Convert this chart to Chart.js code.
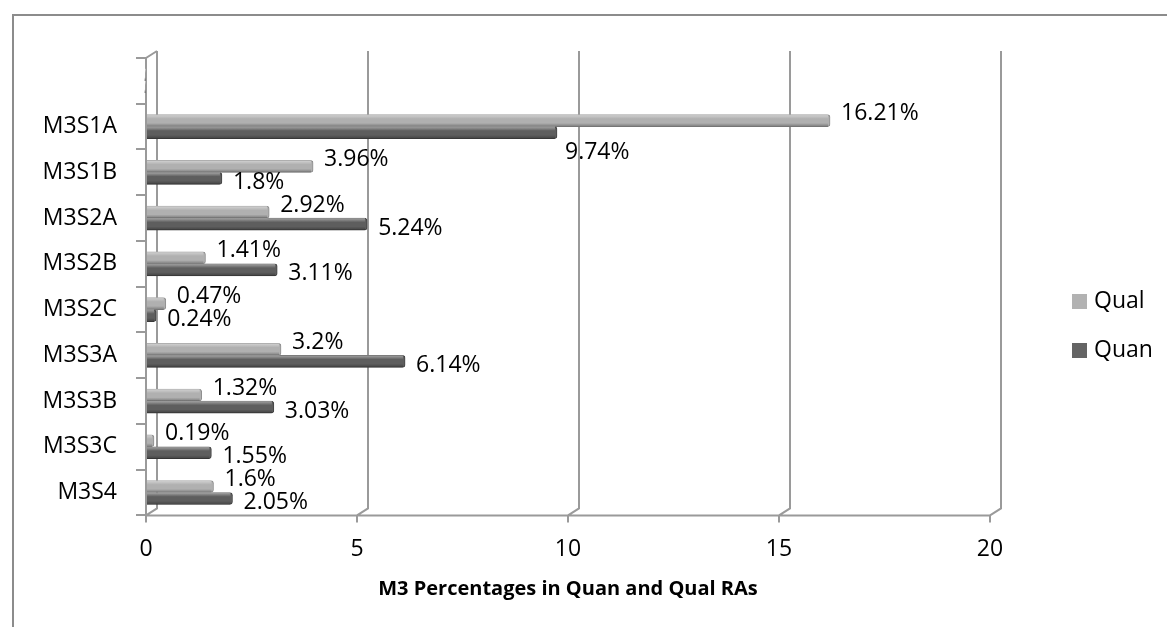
<!DOCTYPE html>
<html>
<head>
<meta charset="utf-8">
<script src="https://cdn.jsdelivr.net/npm/chart.js@4.4.1/dist/chart.umd.min.js"></script>
<style>
  html, body { margin: 0; padding: 0; background: #fff; overflow: hidden; }
  #wrap { position: relative; width: 1167px; height: 627px; }
  #frame { position: absolute; left: 12px; top: 14px; right: -10px; bottom: -10px;
           border-top: 2px solid #8c8c8c; border-left: 2px solid #8c8c8c; }
  canvas { position: absolute; left: 0; top: 0; }
  .leg { position: absolute; left: 1072px; font: 23px "Open Sans", sans-serif; color: #000; }
  .leg span { display: inline-block; width: 15px; height: 15px; margin-right: 7px; vertical-align: -1px; }
</style>
</head>
<body>
<div id="wrap">
  <div id="frame"></div>
  <canvas id="chart" width="1167" height="627"></canvas>
  <div class="leg" style="top:283px"><span style="background:#b2b2b2"></span>Qual</div>
  <div class="leg" style="top:332px"><span style="background:#646464"></span>Quan</div>
</div>
<script>
document.addEventListener("DOMContentLoaded", function () {
  // first slot is left empty, as in the original chart
  const categories = ["", "M3S1A", "M3S1B", "M3S2A", "M3S2B", "M3S2C", "M3S3A", "M3S3B", "M3S3C", "M3S4"];
  const qual = [null, 16.21, 3.96, 2.92, 1.41, 0.47, 3.2, 1.32, 0.19, 1.6];
  const quan = [null, 9.74, 1.8, 5.24, 3.11, 0.24, 6.14, 3.03, 1.55, 2.05];
  const xTicks = [0, 5, 10, 15, 20];

  const FONT = '"Open Sans", sans-serif';
  const lineGrey = "#9a9a9a";

  // back wall + floor lines for the fake 3D look
  const frame3d = {
    id: "frame3d",
    beforeDatasetsDraw(chart) {
      const { ctx, chartArea: a, scales } = chart;
      const dx = 11, dy = 7;
      ctx.save();
      ctx.strokeStyle = lineGrey;
      ctx.lineWidth = 2;
      ctx.beginPath();
      xTicks.forEach((v) => {
        const X = scales.x.getPixelForValue(v);
        ctx.moveTo(X + dx, a.top - dy);
        ctx.lineTo(X + dx, a.bottom - dy);
        ctx.lineTo(X, a.bottom);
      });
      const x0 = scales.x.getPixelForValue(0);
      ctx.moveTo(x0, a.bottom);
      ctx.lineTo(x0, a.top);
      ctx.lineTo(x0 + dx, a.top - dy);
      ctx.moveTo(x0, a.bottom);
      ctx.lineTo(scales.x.getPixelForValue(20), a.bottom);
      ctx.stroke();
      ctx.restore();
    },
  };

  // cylinder shading and value labels
  const barExtras = {
    id: "barExtras",
    afterDatasetsDraw(chart) {
      const { ctx } = chart;
      ctx.save();
      chart.data.datasets.forEach((ds, i) => {
        chart.getDatasetMeta(i).data.forEach((bar) => {
          if (bar.skip) return;
          const top = bar.y - bar.height / 2;
          const g = ctx.createLinearGradient(0, top, 0, top + bar.height);
          g.addColorStop(0, "rgba(255,255,255,0.45)");
          g.addColorStop(0.35, "rgba(255,255,255,0)");
          g.addColorStop(0.7, "rgba(0,0,0,0)");
          g.addColorStop(1, "rgba(0,0,0,0.3)");
          ctx.fillStyle = g;
          ctx.fillRect(bar.base, top, bar.x - bar.base - 2, bar.height);
        });
      });

      ctx.font = "23px " + FONT;
      ctx.fillStyle = "#000";
      ctx.textAlign = "left";
      ctx.textBaseline = "middle";
      const qMeta = chart.getDatasetMeta(0).data;
      chart.data.datasets.forEach((ds, i) => {
        chart.getDatasetMeta(i).data.forEach((bar, j) => {
          const v = ds.data[j];
          if (v == null) return;
          const text = v + "%";
          let x = bar.x + 11;
          let y = bar.y + (i === 0 ? -7 : 4);
          // quan label would sit on a much longer qual bar: drop it below
          if (i === 1 && qMeta[j] && qMeta[j].x > x + ctx.measureText(text).width + 100) {
            x = bar.x + 8;
            y = bar.y + 20;
          }
          ctx.fillText(text, x, y);
        });
      });
      ctx.restore();
    },
  };

  const ctx = document.getElementById("chart").getContext("2d");
  new Chart(ctx, {
    type: "bar",
    data: {
      labels: categories,
      datasets: [
        {
          label: "Qual",
          data: qual,
          backgroundColor: "#b0b0b0",
          borderColor: "#8e8e8e",
          borderWidth: 1,
          borderRadius: 3,
          borderSkipped: "start",
          barThickness: 12,
        },
        {
          label: "Quan",
          data: quan,
          backgroundColor: "#5e5e5e",
          borderColor: "#444",
          borderWidth: 1,
          borderRadius: 3,
          borderSkipped: "start",
          barThickness: 12,
        },
      ],
    },
    options: {
      indexAxis: "y",
      responsive: false,
      animation: false,
      layout: { padding: { top: 58, right: 177, bottom: 26, left: 0 } },
      scales: {
        x: {
          min: 0,
          max: 20,
          afterBuildTicks: (s) => { s.ticks = xTicks.map((v) => ({ value: v })); },
          grid: { drawOnChartArea: false, drawTicks: true, tickLength: 7, color: lineGrey, lineWidth: 2 },
          border: { display: false },
          ticks: { color: "#000", padding: 13, font: { family: FONT, size: 23 } },
          title: {
            display: true,
            text: "M3 Percentages in Quan and Qual RAs",
            color: "#000",
            font: { family: FONT, size: 20, weight: "bold" },
            padding: { top: 1, bottom: 0 },
          },
        },
        y: {
          afterFit: (s) => { s.width = 146; },
          grid: { offset: true, drawOnChartArea: false, drawTicks: true, tickLength: 10, color: lineGrey, lineWidth: 2 },
          border: { display: false },
          ticks: { color: "#000", padding: 19, font: { family: FONT, size: 23 } },
        },
      },
      plugins: {
        legend: { display: false },
        tooltip: { enabled: false },
      },
    },
    plugins: [frame3d, barExtras],
  });
});
</script>
</body>
</html>
